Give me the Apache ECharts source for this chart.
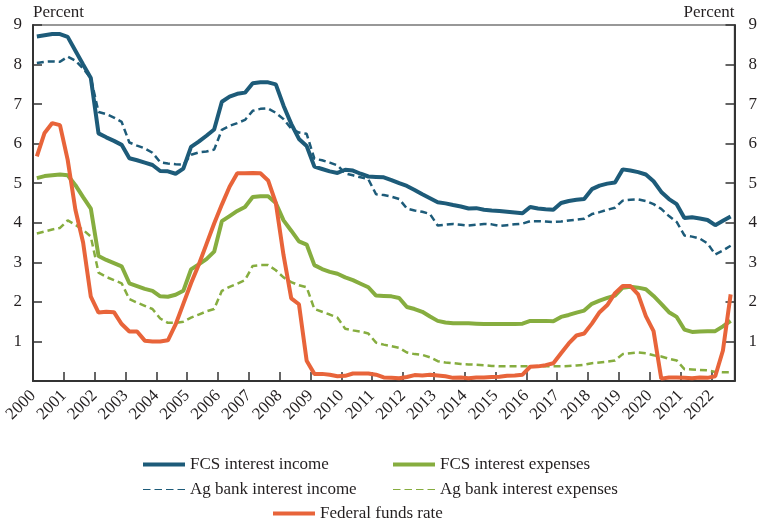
<!DOCTYPE html>
<html>
<head>
<meta charset="utf-8">
<script src="https://cdn.jsdelivr.net/npm/echarts@6/dist/echarts.min.js"></script>
<style>
  html, body { margin: 0; padding: 0; background: #fff; }
  #main { width: 760px; height: 522px; }
</style>
</head>
<body>
<div id="main"></div>
<script>
// quarterly data, 2000Q1 .. 2022Q3 (plotted at mid-quarter)
const startYear = 2000
const yTicks = [0, 1, 2, 3, 4, 5, 6, 7, 8, 9]

const fcsIncome = [
  8.71, 8.74, 8.77, 8.77, 8.70, 8.35, 8.00, 7.66,
  6.26, 6.16, 6.07, 5.97, 5.63, 5.58, 5.52, 5.46,
  5.31, 5.30, 5.24, 5.37, 5.92, 6.05, 6.20, 6.36,
  7.06, 7.19, 7.26, 7.29, 7.53, 7.55, 7.55, 7.50,
  6.96, 6.50, 6.12, 5.94, 5.42, 5.36, 5.30, 5.26,
  5.34, 5.32, 5.24, 5.17, 5.16, 5.15, 5.08, 5.00,
  4.93, 4.83, 4.72, 4.62, 4.52, 4.49, 4.45, 4.41,
  4.36, 4.37, 4.33, 4.31, 4.30, 4.28, 4.26, 4.24,
  4.40, 4.36, 4.34, 4.33, 4.50, 4.55, 4.58, 4.60,
  4.85, 4.94, 4.99, 5.02, 5.35, 5.32, 5.28, 5.22,
  5.05, 4.78, 4.60, 4.47, 4.12, 4.14, 4.11, 4.07,
  3.94, 4.05, 4.16
]
const agIncome = [
  8.04, 8.07, 8.08, 8.07, 8.20, 8.10, 7.90, 7.66,
  6.80, 6.75, 6.66, 6.55, 6.03, 5.95, 5.88, 5.77,
  5.53, 5.50, 5.48, 5.47, 5.72, 5.78, 5.80, 5.85,
  6.35, 6.45, 6.52, 6.60, 6.83, 6.88, 6.89, 6.78,
  6.62, 6.38, 6.28, 6.25, 5.62, 5.58, 5.52, 5.45,
  5.25, 5.20, 5.15, 5.10, 4.72, 4.70, 4.66, 4.60,
  4.36, 4.31, 4.28, 4.22, 3.93, 3.95, 3.97, 3.95,
  3.93, 3.95, 3.97, 3.96, 3.92, 3.94, 3.96, 3.98,
  4.04, 4.04, 4.03, 4.02, 4.03, 4.06, 4.08, 4.10,
  4.22, 4.27, 4.33, 4.38, 4.56, 4.58, 4.59, 4.55,
  4.47, 4.35, 4.17, 4.02, 3.68, 3.65, 3.60, 3.48,
  3.20, 3.30, 3.42
]
const fcsExpense = [
  5.13, 5.18, 5.20, 5.22, 5.20, 4.95, 4.65, 4.36,
  3.16, 3.06, 2.98, 2.90, 2.47, 2.40, 2.33, 2.28,
  2.14, 2.13, 2.18, 2.28, 2.82, 2.95, 3.08, 3.27,
  4.04, 4.17, 4.30, 4.40, 4.65, 4.67, 4.67, 4.50,
  4.06, 3.80, 3.53, 3.45, 2.93, 2.83, 2.76, 2.71,
  2.62, 2.55, 2.46, 2.37, 2.16, 2.15, 2.14, 2.10,
  1.87, 1.82, 1.75, 1.63, 1.52, 1.48, 1.46, 1.46,
  1.46, 1.45, 1.44, 1.44, 1.44, 1.44, 1.44, 1.45,
  1.52, 1.52, 1.52, 1.51, 1.62, 1.67, 1.73, 1.78,
  1.95, 2.03, 2.10, 2.16, 2.36, 2.38, 2.36, 2.32,
  2.15, 1.95, 1.74, 1.62, 1.30, 1.24, 1.25, 1.26,
  1.26, 1.38, 1.52
]
const agExpense = [
  3.73, 3.78, 3.83, 3.87, 4.06, 3.95, 3.82, 3.65,
  2.74, 2.63, 2.55, 2.47, 2.07, 1.98, 1.90, 1.82,
  1.58, 1.47, 1.47, 1.50, 1.60, 1.68, 1.76, 1.82,
  2.28, 2.38, 2.46, 2.55, 2.91, 2.93, 2.93, 2.80,
  2.62, 2.50, 2.42, 2.37, 1.82, 1.75, 1.68, 1.60,
  1.32, 1.28, 1.25, 1.20, 0.97, 0.92, 0.88, 0.84,
  0.72, 0.68, 0.66, 0.60, 0.50, 0.47, 0.45, 0.43,
  0.42, 0.41, 0.40, 0.38, 0.37, 0.37, 0.37, 0.37,
  0.37, 0.37, 0.37, 0.37, 0.37, 0.38, 0.39, 0.41,
  0.45, 0.47, 0.49, 0.52, 0.68, 0.70, 0.72, 0.70,
  0.65, 0.62, 0.56, 0.52, 0.30, 0.29, 0.28, 0.27,
  0.23, 0.22, 0.22
]
const fedFunds = [
  5.68, 6.27, 6.52, 6.47, 5.59, 4.33, 3.50, 2.13,
  1.73, 1.75, 1.74, 1.44, 1.25, 1.25, 1.02, 1.00,
  1.00, 1.03, 1.43, 1.95, 2.47, 2.94, 3.46, 3.98,
  4.46, 4.91, 5.25, 5.25, 5.26, 5.25, 5.07, 4.50,
  3.18, 2.09, 1.94, 0.51, 0.18, 0.18, 0.16, 0.12,
  0.13, 0.19, 0.19, 0.19, 0.16, 0.09, 0.08, 0.07,
  0.10, 0.15, 0.14, 0.16, 0.14, 0.12, 0.08, 0.09,
  0.07, 0.09, 0.09, 0.10, 0.11, 0.13, 0.14, 0.16,
  0.36, 0.37, 0.40, 0.45, 0.70, 0.95, 1.15, 1.20,
  1.45, 1.74, 1.92, 2.22, 2.40, 2.40, 2.19, 1.64,
  1.26, 0.06, 0.09, 0.09, 0.08, 0.07, 0.09, 0.08,
  0.12, 0.77, 2.19
]

const BLUE = '#1d5b79'
const GREEN = '#86ad3f'
const ORANGE = '#e8643a'
const FONT = '"Liberation Serif", "DejaVu Serif", serif'
const INK = '#231f20'

// legend keys: a plain bar, or four dashes
const SOLID_ICON = 'rect'
const DASH_ICON = 'path://M0,0h7.5v1h-7.5z M11.5,0h7.5v1h-7.5z M23,0h7.5v1h-7.5z M34.5,0h7.5v1h-7.5z'

// mid-quarter position on the year axis
const toPairs = arr => arr.map((v, i) => [startYear + 0.125 + 0.25 * i, v])

const line = (name, data, color, width, dashed, z) => ({
  name,
  type: 'line',
  data: toPairs(data),
  symbol: 'none',
  z,
  lineStyle: { color, width, type: dashed ? [7, 4] : 'solid' },
  itemStyle: { color }
})

const legendAt = (name, dashed, left, top) => ({
  data: [name],
  left,
  top,
  padding: 0,
  icon: dashed ? DASH_ICON : SOLID_ICON,
  itemWidth: 42,
  itemHeight: dashed ? 3 : 4,
  itemGap: 5,
  textStyle: { fontFamily: FONT, fontSize: 17, color: INK }
})

const yAxisBase = {
  type: 'value',
  min: yTicks[0],
  max: yTicks[yTicks.length - 1],
  interval: 1,
  name: 'Percent',
  nameLocation: 'end',
  nameGap: 4,
  axisLine: { show: true, lineStyle: { color: '#333', width: 2 } },
  axisTick: { show: true, inside: true, length: 9, lineStyle: { color: '#333', width: 1.5 } },
  splitLine: { show: false },
  axisLabel: { showMinLabel: false, fontFamily: FONT, fontSize: 17, color: INK }
}

const myChart = echarts.init(document.getElementById('main'))
myChart.setOption({
  animation: false,
  backgroundColor: '#fff',
  grid: {
    left: 33, right: 19, top: 25, bottom: 141,
    show: true, borderColor: '#777', borderWidth: 1.5
  },
  legend: [
    legendAt('FCS interest income', false, 143, 456),
    legendAt('FCS interest expenses', false, 393, 456),
    legendAt('Ag bank interest income', true, 143, 481),
    legendAt('Ag bank interest expenses', true, 393, 481),
    legendAt('Federal funds rate', false, 273, 505)
  ],
  xAxis: {
    type: 'value',
    min: 2000,
    max: 2022.75,
    interval: 1,
    axisLine: { show: true, lineStyle: { color: '#333', width: 2 } },
    axisTick: { show: true, inside: true, length: 9, lineStyle: { color: '#333', width: 1.5 } },
    splitLine: { show: false },
    axisLabel: {
      rotate: 45,
      margin: 12,
      showMaxLabel: false,
      fontFamily: FONT,
      fontSize: 17,
      color: INK,
      formatter: v => (Number.isInteger(v) ? String(v) : '')
    }
  },
  yAxis: [
    Object.assign({}, yAxisBase, {
      position: 'left',
      axisLabel: Object.assign({}, yAxisBase.axisLabel, { margin: 11 }),
      nameTextStyle: { align: 'left', verticalAlign: 'bottom', fontFamily: FONT, fontSize: 17, color: INK }
    }),
    Object.assign({}, yAxisBase, {
      position: 'right',
      axisLabel: Object.assign({}, yAxisBase.axisLabel, { margin: 14 }),
      nameTextStyle: { align: 'right', verticalAlign: 'bottom', fontFamily: FONT, fontSize: 17, color: INK }
    })
  ],
  series: [
    line('Ag bank interest income', agIncome, BLUE, 2.5, true, 2),
    line('Ag bank interest expenses', agExpense, GREEN, 2.5, true, 2),
    line('FCS interest income', fcsIncome, BLUE, 4, false, 3),
    line('FCS interest expenses', fcsExpense, GREEN, 4, false, 3),
    line('Federal funds rate', fedFunds, ORANGE, 4, false, 4)
  ]
})
</script>
</body>
</html>
